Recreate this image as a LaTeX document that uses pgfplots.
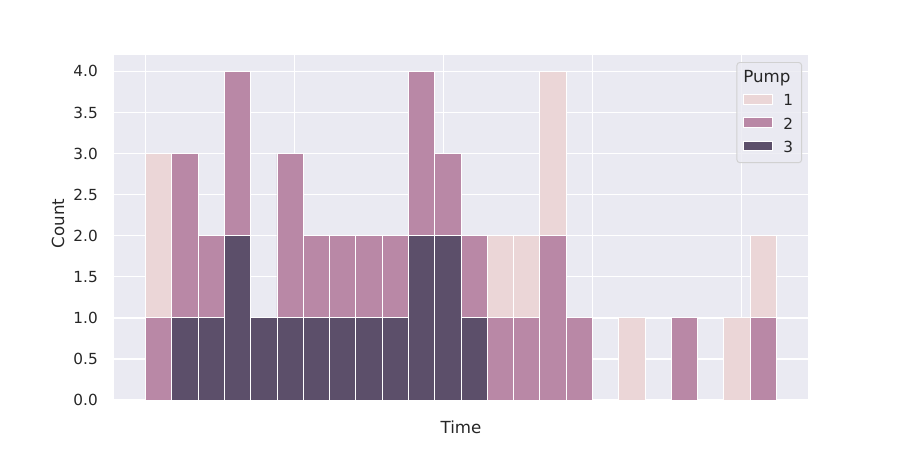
\documentclass[border=0pt]{standalone}
\usepackage{pgfplots}
\pgfplotsset{compat=1.18}
\usepackage{fontspec}
\setmainfont{DejaVu Sans}
\definecolor{bg}{HTML}{EAEAF2}
\definecolor{txt}{HTML}{262626}
\definecolor{pa}{HTML}{EBD6D7}
\definecolor{pb}{HTML}{B988A6}
\definecolor{pc}{HTML}{5C4F6A}
\pgfplotsset{
  histbar/.style={ybar, bar width=1, bar shift=0pt, fill=#1, draw=white, line width=0.6pt,
    legend image code/.code={\draw[sharp corners, fill opacity=1, draw opacity=1, fill=#1, draw=white, line width=0.6pt] (0pt,-2pt) rectangle (20.9pt,4.7pt);}},
}
\begin{document}
\begin{tikzpicture}
\begin{axis}[
  scale only axis,
  width=499.68pt, height=248.4pt,
  xmin=-1.2, xmax=25.2, ymin=0, ymax=4.2,
  axis background/.style={fill=bg},
  axis line style={draw=none},
  major tick length=0pt,
  grid=major,
  grid style={white, line width=1pt},
  xtick={0,5.6667,11.3333,17,22.6667},
  xticklabels={},
  ytick={0,0.5,...,4.0},
  yticklabel style={/pgf/number format/fixed, /pgf/number format/fixed zerofill, /pgf/number format/precision=1, /pgf/number format/assume math mode=true, font=\fontsize{11}{13}\selectfont, text=txt, inner sep=0pt, xshift=-11.5pt},
  scaled y ticks=false,
  xlabel={Time}, ylabel={Count},
  xlabel style={at={(axis description cs:0.5,0)}, anchor=center, yshift=-19.4pt, font=\fontsize{12}{14}\selectfont, text=txt},
  ylabel style={at={(axis description cs:-0.0807,0.512)}, anchor=center, font=\fontsize{12}{14}\selectfont, text=txt},
  legend style={at={(0.9914,0.9797)}, anchor=north east, fill=bg, fill opacity=0.8, text opacity=1, draw=black!18, rounded corners=2pt, line width=0.7pt, font=\fontsize{11}{13}\selectfont, text=txt, inner xsep=4pt, inner ysep=4pt, row sep=3pt, column sep=6pt},
  legend cell align=left,
]
\addplot[histbar=pa, forget plot] coordinates {(0.5,3) (13.5,2) (14.5,2) (15.5,4) (18.5,1) (22.5,1) (23.5,2)};
\addplot[histbar=pb, forget plot] coordinates {(0.5,1) (1.5,3) (2.5,2) (3.5,4) (5.5,3) (6.5,2) (7.5,2) (8.5,2) (9.5,2) (10.5,4) (11.5,3) (12.5,2) (13.5,1) (14.5,1) (15.5,2) (16.5,1) (20.5,1) (23.5,1)};
\addplot[histbar=pc, forget plot] coordinates {(1.5,1) (2.5,1) (3.5,2) (4.5,1) (5.5,1) (6.5,1) (7.5,1) (8.5,1) (9.5,1) (10.5,2) (11.5,2) (12.5,1)};
\addlegendimage{empty legend}
\addlegendentry{\makebox[5pt][r]{\fontsize{12}{14}\selectfont Pump}}
\addlegendimage{histbar=pa}
\addlegendentry{1}
\addlegendimage{histbar=pb}
\addlegendentry{2}
\addlegendimage{histbar=pc}
\addlegendentry{3}
\end{axis}
\pgfresetboundingbox
\path (-82.08pt,-36pt) rectangle (565.92pt,288pt);
\end{tikzpicture}
\end{document}
